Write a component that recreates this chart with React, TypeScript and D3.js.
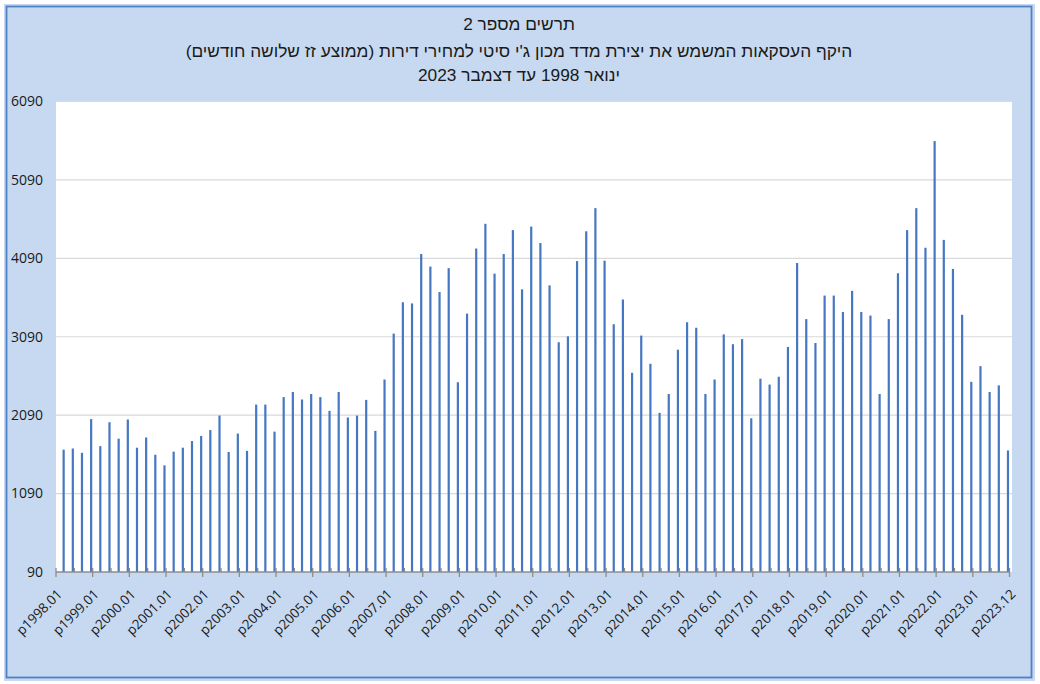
import React from "react";
import * as d3 from "d3";

const titleLines = [
  "תרשים מספר 2",
  "היקף העסקאות המשמש את יצירת מדד מכון ג'י סיטי למחירי דירות (ממוצע זז שלושה חודשים)",
  "ינואר 1998 עד דצמבר 2023",
];

const years = d3.range(1998, 2024);
const monthNums = ["01", "02", "03", "04", "05", "06", "07", "08", "09", "10", "11", "12"];
const months: string[] = years.flatMap((y) => monthNums.map((m) => `p${y}.${m}`));
const quarterEnds = ["03", "06", "09", "12"];
const quarterKeys: string[] = years.flatMap((y) => quarterEnds.map((m) => `p${y}.${m}`));

// 3-month moving average, shown at quarter ends
const quarterValues = [
  1650, 1665, 1610, 2040, 1695, 2000, 1790, 2035, 1675, 1805, 1585, 1450, 1625, 1675, 1760, 1825, 1900, 2085, 1620, 1855, 1635,
  2225, 2225, 1880, 2320, 2385, 2290, 2360, 2320, 2145, 2385, 2060, 2085, 2285, 1890, 2545, 3130, 3530, 3515, 4145, 3985, 3660,
  3965, 2510, 3385, 4215, 4530, 3895, 4145, 4450, 3695, 4495, 4285, 3745, 3020, 3095, 4055, 4435, 4730, 4060, 3250, 3565,
  2630, 3105, 2745, 2120, 2360, 2925, 3275, 3205, 2360, 2545, 3120, 2995, 3060, 2050, 2555, 2480, 2580, 2960, 4030, 3315, 3010,
  3615, 3615, 3405, 3675, 3405, 3360, 2360, 3315, 3900, 4450, 4730, 4225, 5585, 4325, 3955, 3370, 2515, 2715, 2385, 2470, 1640,
];

const yTicks = [90, 1090, 2090, 3090, 4090, 5090, 6090];
const majorTickLabels: string[] = [...years.map((y) => `p${y}.01`), "p2023.12"];
const minorTickMonths: string[] = years.map((y) => `p${y}.07`);

export default function App() {
  const W = 1040;
  const H = 684;
  const plotL = 56;
  const plotR = 1012;
  const plotT = 101;
  const plotB = 572;

  const x = d3.scaleBand<string>().domain(months).range([plotL, 1009.5]).paddingInner(0.28).paddingOuter(0.14);
  const step = x.step();
  const y = d3.scaleLinear().domain([90, 6090]).range([plotB, plotT + 0.5]);

  const tickX = (lab: string) => {
    if (lab === "p2023.12") return 1009.5;
    return plotL + months.indexOf(lab) * step;
  };

  const labelFont = "'Open Sans', 'DejaVu Sans', sans-serif";
  const titleFont = "'Liberation Sans', Arial, 'DejaVu Sans', sans-serif";

  return (
    <svg
      width={W}
      height={H}
      style={{ position: "absolute", left: 0, top: 0, background: "#ffffff" }}
    >
      <rect x={5.5} y={5.5} width={1028} height={674} fill="none" stroke="#c9d8ee" strokeWidth={3} />
      <rect x={6.5} y={6.5} width={1025} height={671} fill="#c6d9f1" stroke="#4f81c5" strokeWidth={1.8} />

      {titleLines.map((t, i) => (
        <text
          key={i}
          x={519}
          y={[30, 57, 81][i]}
          direction="rtl"
          textAnchor="middle"
          fontFamily={titleFont}
          fontSize={17.3}
          fill="#1a1a1a"
        >
          {t}
        </text>
      ))}

      <rect x={plotL} y={plotT} width={plotR - plotL} height={plotB - plotT} fill="#ffffff" />

      {yTicks.map((v) => (
        <g key={v}>
          {v !== 90 && (
            <line x1={plotL} x2={plotR} y1={y(v)} y2={y(v)} stroke="#d9d9d9" strokeWidth={1.2} />
          )}
          <text
            x={43}
            y={y(v)}
            dy="0.35em"
            textAnchor="end"
            fontFamily={labelFont}
            fontSize={14}
            fill="#1a1a1a"
          >
            {v}
          </text>
        </g>
      ))}

      {quarterKeys.map((k, i) => (
        <rect
          key={k}
          x={x(k)!}
          y={y(quarterValues[i])}
          width={x.bandwidth()}
          height={plotB - y(quarterValues[i])}
          fill="#4677c2"
        />
      ))}

      <line x1={plotL} x2={1010} y1={plotB} y2={plotB} stroke="#8c8c8c" strokeWidth={1.5} />
      {minorTickMonths.map((m) => (
        <line key={m} x1={tickX(m)} x2={tickX(m)} y1={plotB - 4} y2={plotB} stroke="#8c8c8c" strokeWidth={1.3} />
      ))}
      {majorTickLabels.map((lab) => (
        <line key={lab} x1={tickX(lab)} x2={tickX(lab)} y1={plotB - 4} y2={plotB + 5} stroke="#8c8c8c" strokeWidth={1.3} />
      ))}

      {majorTickLabels.map((lab) => (
        <text
          key={lab}
          transform={`translate(${tickX(lab) + 7},${plotB + 23}) rotate(-45)`}
          textAnchor="end"
          fontFamily={labelFont}
          fontSize={13.5}
          fill="#1a1a1a"
        >
          {lab}
        </text>
      ))}
    </svg>
  );
}
